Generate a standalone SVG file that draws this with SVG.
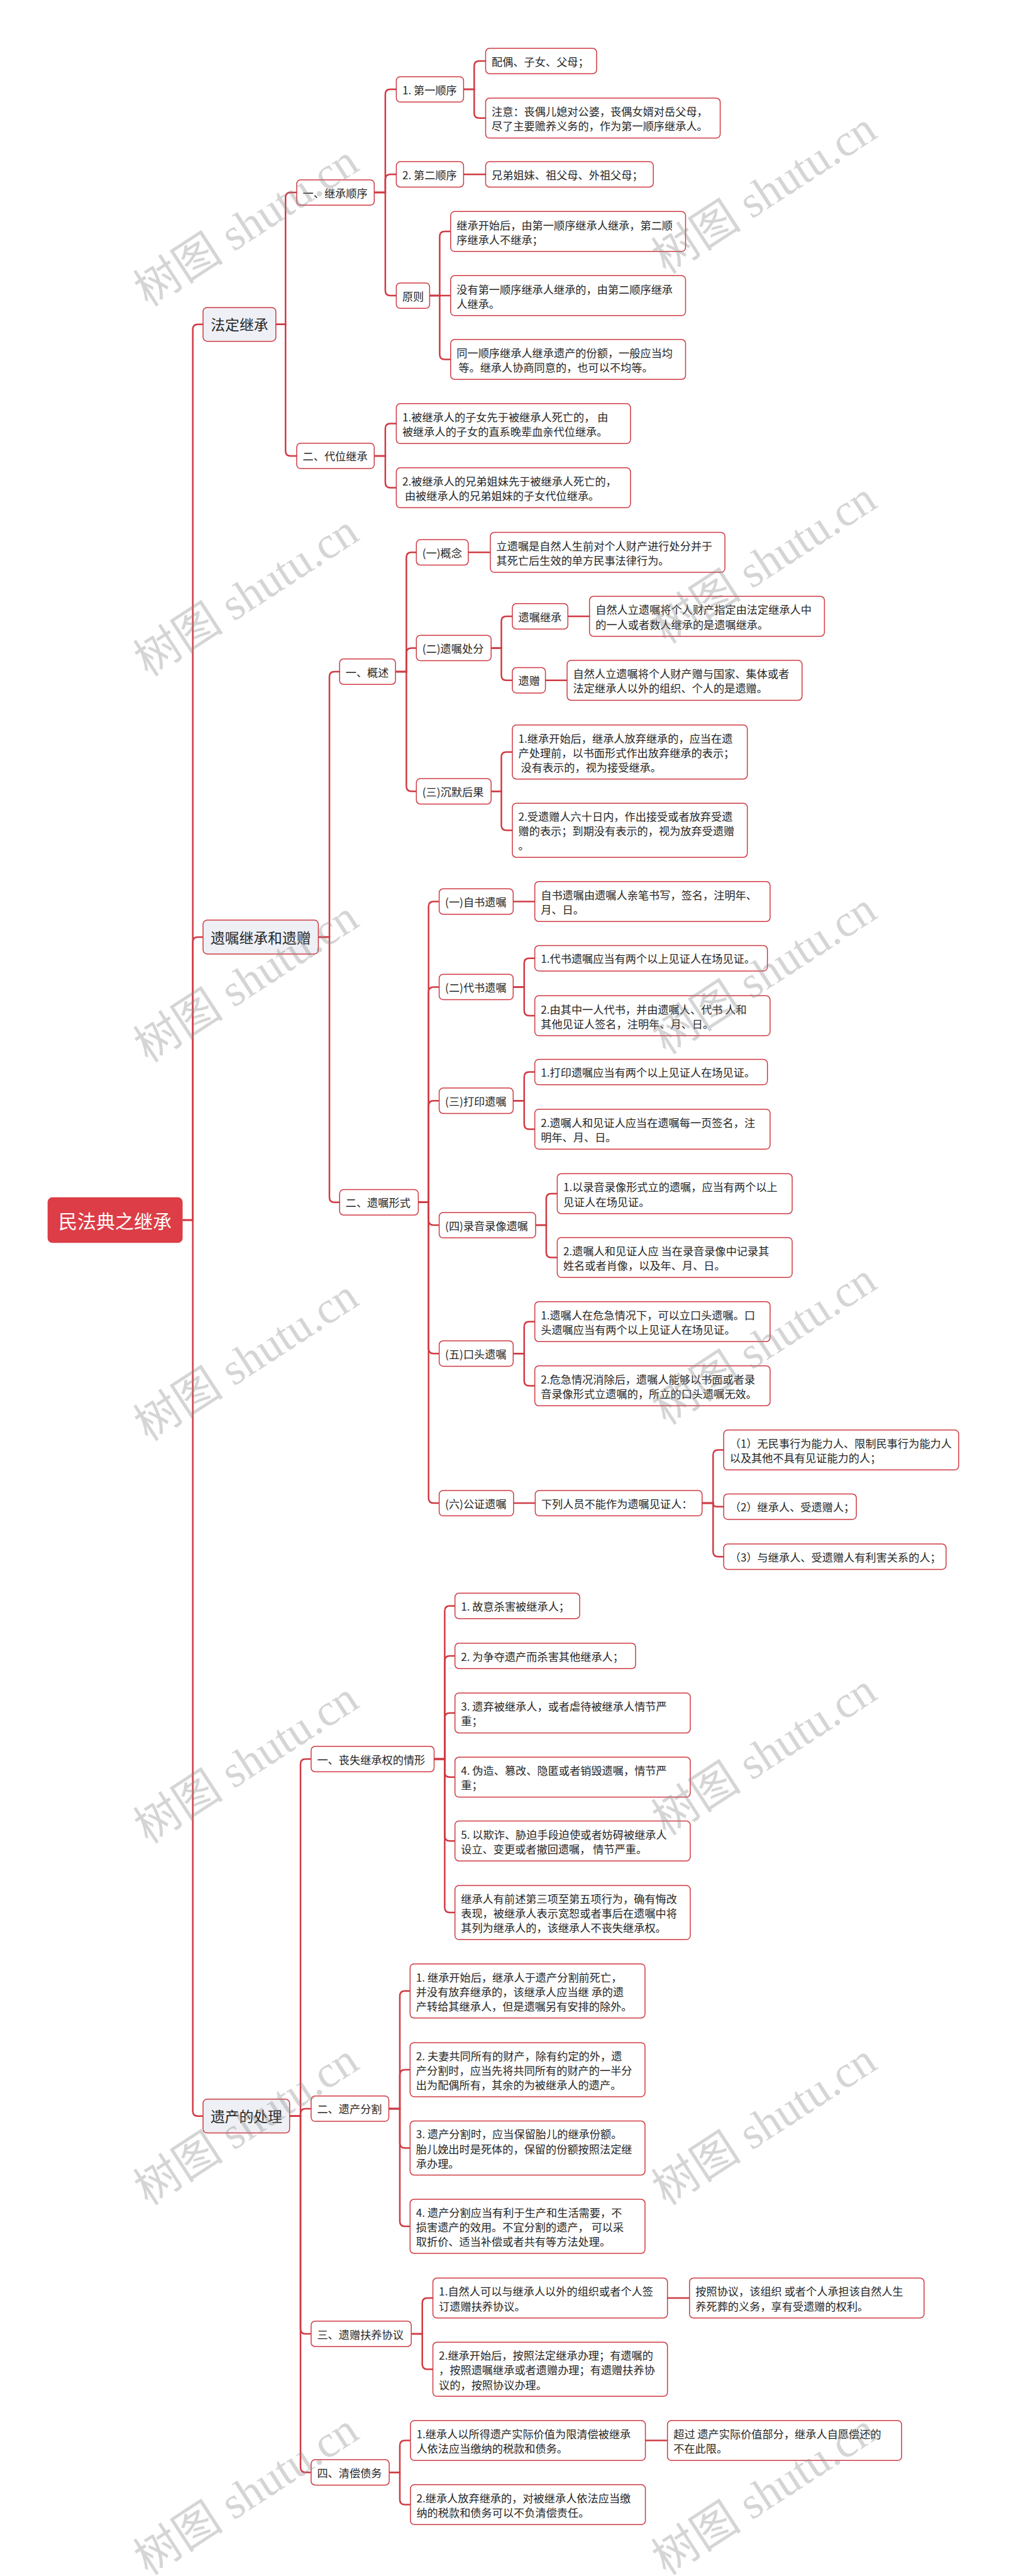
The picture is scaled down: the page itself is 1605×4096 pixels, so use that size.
<svg xmlns="http://www.w3.org/2000/svg" width="1605" height="4096" viewBox="0 0 1605 4096">
<style>
.c path{fill:none;stroke:#d03a43;stroke-width:2.5}
.n rect{fill:#fff;stroke:#cf3a43;stroke-width:1.5}
.l1 rect{fill:#eef0f5}
.root rect{fill:#dc3d46;stroke:none}
text{font-family:"Noto Sans CJK SC","Noto Sans",sans-serif;font-size:17.2px;fill:#262626;dominant-baseline:central}
.l1 text{font-size:22.8px;text-anchor:middle}
.root text{font-size:30px;fill:#fff;text-anchor:middle}
.wm text{font-family:"Liberation Serif","Noto Sans CJK SC",serif;font-size:72px;fill:#8a8a8a;opacity:0.35;text-anchor:middle;dominant-baseline:auto}
</style>
<rect width="1605" height="4096" fill="#fff"/>
<g class="c" id="connectors">
<path d="M290.5 1940 H306.7 V523.8 Q306.7 515.8 314.7 515.8 H323"/>
<path d="M290.5 1940 H306.7 V1498 Q306.7 1490 314.7 1490 H323"/>
<path d="M290.5 1940 H306.7 V3356.7 Q306.7 3364.7 314.7 3364.7 H323"/>
<path d="M438.8 515.8 H454.2 V314.1 Q454.2 306.1 462.2 306.1 H472"/>
<path d="M438.8 515.8 H454.2 V716.9 Q454.2 724.9 462.2 724.9 H472"/>
<path d="M595.3 306.1 H612.9 V150.1 Q612.9 142.1 620.9 142.1 H630.4"/>
<path d="M595.3 306.1 H612.9 V285.3 Q612.9 277.3 620.9 277.3 H630.4"/>
<path d="M595.3 306.1 H612.9 V462.1 Q612.9 470.1 620.9 470.1 H630.4"/>
<path d="M737.4 142.1 H754.3 V105 Q754.3 97 762.3 97 H772.5"/>
<path d="M737.4 142.1 H754.3 V179.8 Q754.3 187.8 762.3 187.8 H772.5"/>
<path d="M737.4 277.3 H772.5"/>
<path d="M683.4 470.1 H699.4 V376.1 Q699.4 368.1 707.4 368.1 H716.8"/>
<path d="M683.4 470.1 H716.8"/>
<path d="M683.4 470.1 H699.4 V563.5 Q699.4 571.5 707.4 571.5 H716.8"/>
<path d="M595.3 724.9 H612.9 V681.6 Q612.9 673.6 620.9 673.6 H630.4"/>
<path d="M595.3 724.9 H612.9 V767.6 Q612.9 775.6 620.9 775.6 H630.4"/>
<path d="M506.4 1490 H524 V1076 Q524 1068 532 1068 H540.2"/>
<path d="M506.4 1490 H524 V1903.8 Q524 1911.8 532 1911.8 H540.2"/>
<path d="M629.1 1068 H646.4 V886.3 Q646.4 878.3 654.4 878.3 H662.3"/>
<path d="M629.1 1068 H646.4 V1038.4 Q646.4 1030.4 654.4 1030.4 H662.3"/>
<path d="M629.1 1068 H646.4 V1250.3 Q646.4 1258.3 654.4 1258.3 H662.3"/>
<path d="M744.9 878.3 H780"/>
<path d="M781.2 1030.4 H797.5 V988 Q797.5 980 805.5 980 H815"/>
<path d="M781.2 1030.4 H797.5 V1073.7 Q797.5 1081.7 805.5 1081.7 H815"/>
<path d="M903.3 980 H937.7"/>
<path d="M867.6 1081.7 H902.1"/>
<path d="M781.2 1258.3 H797.5 V1203.7 Q797.5 1195.7 805.5 1195.7 H815"/>
<path d="M781.2 1258.3 H797.5 V1312.2 Q797.5 1320.2 805.5 1320.2 H815"/>
<path d="M665.4 1911.8 H681.7 V1441.5 Q681.7 1433.5 689.7 1433.5 H698.6"/>
<path d="M665.4 1911.8 H681.7 V1577.4 Q681.7 1569.4 689.7 1569.4 H698.6"/>
<path d="M665.4 1911.8 H681.7 V1758.3 Q681.7 1750.3 689.7 1750.3 H698.6"/>
<path d="M665.4 1911.8 H681.7 V1940.1 Q681.7 1948.1 689.7 1948.1 H698.6"/>
<path d="M665.4 1911.8 H681.7 V2144.2 Q681.7 2152.2 689.7 2152.2 H698.6"/>
<path d="M665.4 1911.8 H681.7 V2382.1 Q681.7 2390.1 689.7 2390.1 H698.6"/>
<path d="M816.3 1433.5 H850.7"/>
<path d="M816.3 1569.4 H833.8 V1531.7 Q833.8 1523.7 841.8 1523.7 H850.7"/>
<path d="M816.3 1569.4 H833.8 V1607.1 Q833.8 1615.1 841.8 1615.1 H850.7"/>
<path d="M816.3 1750.3 H833.8 V1712.6 Q833.8 1704.6 841.8 1704.6 H850.7"/>
<path d="M816.3 1750.3 H833.8 V1787.4 Q833.8 1795.4 841.8 1795.4 H850.7"/>
<path d="M852 1948.1 H868.9 V1906 Q868.9 1898 876.9 1898 H886.4"/>
<path d="M852 1948.1 H868.9 V1991.4 Q868.9 1999.4 876.9 1999.4 H886.4"/>
<path d="M816.3 2152.2 H833.8 V2109.5 Q833.8 2101.5 841.8 2101.5 H850.7"/>
<path d="M816.3 2152.2 H833.8 V2195.5 Q833.8 2203.5 841.8 2203.5 H850.7"/>
<path d="M816.9 2390.1 H851.4"/>
<path d="M1116.8 2390.1 H1134.3 V2313.6 Q1134.3 2305.6 1142.3 2305.6 H1151.2"/>
<path d="M1116.8 2390.1 H1134.3 Q1134.3 2395.7 1139.9 2395.7 H1151.2"/>
<path d="M1116.8 2390.1 H1134.3 V2467.2 Q1134.3 2475.2 1142.3 2475.2 H1151.2"/>
<path d="M460.7 3364.7 H478 V2805 Q478 2797 486 2797 H494.9"/>
<path d="M460.7 3364.7 H478 V3360.9 Q478 3352.9 486 3352.9 H494.9"/>
<path d="M460.7 3364.7 H478 V3703 Q478 3711 486 3711 H494.9"/>
<path d="M460.7 3364.7 H478 V3923.3 Q478 3931.3 486 3931.3 H494.9"/>
<path d="M690.5 2797 H707.4 V2561.5 Q707.4 2553.5 715.4 2553.5 H723.7"/>
<path d="M690.5 2797 H707.4 V2641 Q707.4 2633 715.4 2633 H723.7"/>
<path d="M690.5 2797 H707.4 V2731.7 Q707.4 2723.7 715.4 2723.7 H723.7"/>
<path d="M690.5 2797 H707.4 V2817.8 Q707.4 2825.8 715.4 2825.8 H723.7"/>
<path d="M690.5 2797 H707.4 V2919.2 Q707.4 2927.2 715.4 2927.2 H723.7"/>
<path d="M690.5 2797 H707.4 V3033.1 Q707.4 3041.1 715.4 3041.1 H723.7"/>
<path d="M618.5 3352.9 H636 V3173.7 Q636 3165.7 644 3165.7 H652.3"/>
<path d="M618.5 3352.9 H636 V3298.9 Q636 3290.9 644 3290.9 H652.3"/>
<path d="M618.5 3352.9 H636 V3407.5 Q636 3415.5 644 3415.5 H652.3"/>
<path d="M618.5 3352.9 H636 V3532 Q636 3540 644 3540 H652.3"/>
<path d="M654.2 3711 H671.7 V3662 Q671.7 3654 679.7 3654 H688.6"/>
<path d="M654.2 3711 H671.7 V3759.3 Q671.7 3767.3 679.7 3767.3 H688.6"/>
<path d="M1061.7 3654 H1096.8"/>
<path d="M619.1 3931.3 H636 V3888.6 Q636 3880.6 644 3880.6 H652.9"/>
<path d="M619.1 3931.3 H636 V3974.6 Q636 3982.6 644 3982.6 H652.9"/>
<path d="M1026.6 3880.6 H1061.7"/>
</g>
<g id="root" class="root"><rect x="75.7" y="1903.7" width="214.8" height="72.6" rx="7.5"/><text x="183.1" y="1940">民法典之继承</text></g>
<g id="l1-fading" class="n l1"><rect x="323" y="488.9" width="115.8" height="53.8" rx="6.5"/><text x="380.9" y="515.8">法定继承</text></g>
<g id="l1-will" class="n l1"><rect x="323" y="1463.1" width="183.4" height="53.8" rx="6.5"/><text x="414.7" y="1490">遗嘱继承和遗赠</text></g>
<g id="l1-estate" class="n l1"><rect x="323" y="3337.8" width="137.7" height="53.8" rx="6.5"/><text x="391.9" y="3364.7">遗产的处理</text></g>

<g id="n-order" class="n"><rect x="472" y="285.9" width="123.3" height="40.4" rx="6.3"/><text x="481.5" y="306.1">一、继承顺序</text></g>
<g id="n-first" class="n"><rect x="630.4" y="121.9" width="107" height="40.4" rx="6.3"/><text x="639.9" y="142.1">1. 第一顺序</text></g>
<g id="n-first-a" class="n"><rect x="772.5" y="76.8" width="176.5" height="40.4" rx="6.3"/><text x="782" y="97">配偶、子女、父母；</text></g>
<g id="n-first-b" class="n"><rect x="772.5" y="156.05" width="373.1" height="63.5" rx="6.3"/><text x="782"><tspan x="782" y="176.2">注意：丧偶儿媳对公婆，丧偶女婿对岳父母，</tspan><tspan x="782" y="199.4">尽了主要赡养义务的，作为第一顺序继承人。</tspan></text></g>
<g id="n-second" class="n"><rect x="630.4" y="257.1" width="107" height="40.4" rx="6.3"/><text x="639.9" y="277.3">2. 第二顺序</text></g>
<g id="n-second-a" class="n"><rect x="772.5" y="257.1" width="266.7" height="40.4" rx="6.3"/><text x="782" y="277.3">兄弟姐妹、祖父母、外祖父母；</text></g>
<g id="n-rule" class="n"><rect x="630.4" y="449.9" width="53" height="40.4" rx="6.3"/><text x="639.9" y="470.1">原则</text></g>
<g id="n-rule-a" class="n"><rect x="716.8" y="336.35" width="373.7" height="63.5" rx="6.3"/><text><tspan x="726.3" y="356.5">继承开始后，由第一顺序继承人继承，第二顺</tspan><tspan x="726.3" y="379.7">序继承人不继承；</tspan></text></g>
<g id="n-rule-b" class="n"><rect x="716.8" y="438.35" width="373.7" height="63.5" rx="6.3"/><text><tspan x="726.3" y="458.5">没有第一顺序继承人继承的，由第二顺序继承</tspan><tspan x="726.3" y="481.7">人继承。</tspan></text></g>
<g id="n-rule-c" class="n"><rect x="716.8" y="539.75" width="373.7" height="63.5" rx="6.3"/><text><tspan x="726.3" y="559.9">同一顺序继承人继承遗产的份额，一般应当均</tspan><tspan x="729.3" y="583.1">等。继承人协商同意的，也可以不均等。</tspan></text></g>
<g id="n-subst" class="n"><rect x="472" y="704.7" width="123.3" height="40.4" rx="6.3"/><text x="481.5" y="724.9">二、代位继承</text></g>
<g id="n-subst-a" class="n"><rect x="630.4" y="641.85" width="372.5" height="63.5" rx="6.3"/><text><tspan x="639.9" y="662">1.被继承人的子女先于被继承人死亡的， 由</tspan><tspan x="639.9" y="685.2">被继承人的子女的直系晚辈血亲代位继承。</tspan></text></g>
<g id="n-subst-b" class="n"><rect x="630.4" y="743.85" width="372.5" height="63.5" rx="6.3"/><text><tspan x="639.9" y="764">2.被继承人的兄弟姐妹先于被继承人死亡的，</tspan><tspan x="643.9" y="787.2">由被继承人的兄弟姐妹的子女代位继承。</tspan></text></g>

<g id="n-overview" class="n"><rect x="540.2" y="1047.8" width="88.9" height="40.4" rx="6.3"/><text x="549.7" y="1068">一、概述</text></g>
<g id="n-concept" class="n"><rect x="662.3" y="858.1" width="82.6" height="40.4" rx="6.3"/><text x="671.8" y="878.3">(一)概念</text></g>
<g id="n-concept-a" class="n"><rect x="780" y="846.55" width="373.1" height="63.5" rx="6.3"/><text><tspan x="789.5" y="866.7">立遗嘱是自然人生前对个人财产进行处分并于</tspan><tspan x="789.5" y="889.9">其死亡后生效的单方民事法律行为。</tspan></text></g>
<g id="n-dispose" class="n"><rect x="662.3" y="1010.2" width="118.9" height="40.4" rx="6.3"/><text x="671.8" y="1030.4">(二)遗嘱处分</text></g>
<g id="n-willinh" class="n"><rect x="815" y="959.8" width="88.3" height="40.4" rx="6.3"/><text x="824.5" y="980">遗嘱继承</text></g>
<g id="n-willinh-a" class="n"><rect x="937.7" y="948.25" width="373.7" height="63.5" rx="6.3"/><text><tspan x="947.2" y="968.4">自然人立遗嘱将个人财产指定由法定继承人中</tspan><tspan x="947.2" y="991.6">的一人或者数人继承的是遗嘱继承。</tspan></text></g>
<g id="n-bequest" class="n"><rect x="815" y="1061.5" width="52.6" height="40.4" rx="6.3"/><text x="824.5" y="1081.7">遗赠</text></g>
<g id="n-bequest-a" class="n"><rect x="902.1" y="1049.95" width="373.7" height="63.5" rx="6.3"/><text><tspan x="911.6" y="1070.1">自然人立遗嘱将个人财产赠与国家、集体或者</tspan><tspan x="911.6" y="1093.3">法定继承人以外的组织、个人的是遗赠。</tspan></text></g>
<g id="n-silence" class="n"><rect x="662.3" y="1238.1" width="118.9" height="40.4" rx="6.3"/><text x="671.8" y="1258.3">(三)沉默后果</text></g>
<g id="n-silence-a" class="n"><rect x="815" y="1152.7" width="373.7" height="86" rx="6.3"/><text><tspan x="824.5" y="1172.5">1.继承开始后，继承人放弃继承的，应当在遗</tspan><tspan x="824.5" y="1195.7">产处理前，以书面形式作出放弃继承的表示；</tspan><tspan x="828.5" y="1218.9">没有表示的，视为接受继承。</tspan></text></g>
<g id="n-silence-b" class="n"><rect x="815" y="1277.2" width="373.7" height="86" rx="6.3"/><text><tspan x="824.5" y="1297">2.受遗赠人六十日内，作出接受或者放弃受遗</tspan><tspan x="824.5" y="1320.2">赠的表示；到期没有表示的，视为放弃受遗赠</tspan><tspan x="824.5" y="1343.4">。</tspan></text></g>

<g id="n-forms" class="n"><rect x="540.2" y="1891.6" width="125.2" height="40.4" rx="6.3"/><text x="549.7" y="1911.8">二、遗嘱形式</text></g>
<g id="n-self" class="n"><rect x="698.6" y="1413.3" width="117.7" height="40.4" rx="6.3"/><text x="708.1" y="1433.5">(一)自书遗嘱</text></g>
<g id="n-self-a" class="n"><rect x="850.7" y="1401.75" width="374.3" height="63.5" rx="6.3"/><text><tspan x="860.2" y="1421.9">自书遗嘱由遗嘱人亲笔书写，签名，注明年、</tspan><tspan x="860.2" y="1445.1">月、日。</tspan></text></g>
<g id="n-proxy" class="n"><rect x="698.6" y="1549.2" width="117.7" height="40.4" rx="6.3"/><text x="708.1" y="1569.4">(二)代书遗嘱</text></g>
<g id="n-proxy-a" class="n"><rect x="850.7" y="1503.5" width="370" height="40.4" rx="6.3"/><text x="860.2" y="1523.7">1.代书遗嘱应当有两个以上见证人在场见证。</text></g>
<g id="n-proxy-b" class="n"><rect x="850.7" y="1583.35" width="374.3" height="63.5" rx="6.3"/><text><tspan x="860.2" y="1603.5">2.由其中一人代书，并由遗嘱人、代书 人和</tspan><tspan x="860.2" y="1626.7">其他见证人签名，注明年、月、日。</tspan></text></g>
<g id="n-print" class="n"><rect x="698.6" y="1730.1" width="117.7" height="40.4" rx="6.3"/><text x="708.1" y="1750.3">(三)打印遗嘱</text></g>
<g id="n-print-a" class="n"><rect x="850.7" y="1684.4" width="370" height="40.4" rx="6.3"/><text x="860.2" y="1704.6">1.打印遗嘱应当有两个以上见证人在场见证。</text></g>
<g id="n-print-b" class="n"><rect x="850.7" y="1763.65" width="374.3" height="63.5" rx="6.3"/><text><tspan x="860.2" y="1783.8">2.遗嘱人和见证人应当在遗嘱每一页签名，注</tspan><tspan x="860.2" y="1807">明年、月、日。</tspan></text></g>
<g id="n-av" class="n"><rect x="698.6" y="1927.9" width="153.4" height="40.4" rx="6.3"/><text x="708.1" y="1948.1">(四)录音录像遗嘱</text></g>
<g id="n-av-a" class="n"><rect x="886.4" y="1866.25" width="373.7" height="63.5" rx="6.3"/><text><tspan x="895.9" y="1886.4">1.以录音录像形式立的遗嘱，应当有两个以上</tspan><tspan x="895.9" y="1909.6">见证人在场见证。</tspan></text></g>
<g id="n-av-b" class="n"><rect x="886.4" y="1967.65" width="373.7" height="63.5" rx="6.3"/><text><tspan x="895.9" y="1987.8">2.遗嘱人和见证人应 当在录音录像中记录其</tspan><tspan x="895.9" y="2011">姓名或者肖像，以及年、月、日。</tspan></text></g>
<g id="n-oral" class="n"><rect x="698.6" y="2132" width="117.7" height="40.4" rx="6.3"/><text x="708.1" y="2152.2">(五)口头遗嘱</text></g>
<g id="n-oral-a" class="n"><rect x="850.7" y="2069.75" width="374.3" height="63.5" rx="6.3"/><text><tspan x="860.2" y="2089.9">1.遗嘱人在危急情况下，可以立口头遗嘱。口</tspan><tspan x="860.2" y="2113.1">头遗嘱应当有两个以上见证人在场见证。</tspan></text></g>
<g id="n-oral-b" class="n"><rect x="850.7" y="2171.75" width="374.3" height="63.5" rx="6.3"/><text><tspan x="860.2" y="2191.9">2.危急情况消除后，遗嘱人能够以书面或者录</tspan><tspan x="860.2" y="2215.1">音录像形式立遗嘱的，所立的口头遗嘱无效。</tspan></text></g>
<g id="n-notary" class="n"><rect x="698.6" y="2369.9" width="118.3" height="40.4" rx="6.3"/><text x="708.1" y="2390.1">(六)公证遗嘱</text></g>
<g id="n-notary-a" class="n"><rect x="851.4" y="2369.9" width="265.4" height="40.4" rx="6.3"/><text x="860.9" y="2390.1">下列人员不能作为遗嘱见证人：</text></g>
<g id="n-notary-1" class="n"><rect x="1151.2" y="2273.85" width="373.7" height="63.5" rx="6.3"/><text><tspan x="1160.7" y="2294">（1）无民事行为能力人、限制民事行为能力人</tspan><tspan x="1160.7" y="2317.2">以及其他不具有见证能力的人；</tspan></text></g>
<g id="n-notary-2" class="n"><rect x="1151.2" y="2375.5" width="211" height="40.4" rx="6.3"/><text x="1160.7" y="2395.7">（2）继承人、受遗赠人；</text></g>
<g id="n-notary-3" class="n"><rect x="1151.2" y="2455" width="353.7" height="40.4" rx="6.3"/><text x="1160.7" y="2475.2">（3）与继承人、受遗赠人有利害关系的人；</text></g>

<g id="n-loss" class="n"><rect x="494.9" y="2776.8" width="195.6" height="40.4" rx="6.3"/><text x="504.4" y="2797">一、丧失继承权的情形</text></g>
<g id="n-loss-1" class="n"><rect x="723.7" y="2533.3" width="198.4" height="40.4" rx="6.3"/><text x="733.2" y="2553.5">1. 故意杀害被继承人；</text></g>
<g id="n-loss-2" class="n"><rect x="723.7" y="2612.8" width="287.3" height="40.4" rx="6.3"/><text x="733.2" y="2633">2. 为争夺遗产而杀害其他继承人；</text></g>
<g id="n-loss-3" class="n"><rect x="723.7" y="2691.95" width="374.3" height="63.5" rx="6.3"/><text><tspan x="733.2" y="2712.1">3. 遗弃被继承人，或者虐待被继承人情节严</tspan><tspan x="733.2" y="2735.3">重；</tspan></text></g>
<g id="n-loss-4" class="n"><rect x="723.7" y="2794.05" width="374.3" height="63.5" rx="6.3"/><text><tspan x="733.2" y="2814.2">4. 伪造、篡改、隐匿或者销毁遗嘱，情节严</tspan><tspan x="733.2" y="2837.4">重；</tspan></text></g>
<g id="n-loss-5" class="n"><rect x="723.7" y="2895.45" width="374.3" height="63.5" rx="6.3"/><text><tspan x="733.2" y="2915.6">5. 以欺诈、胁迫手段迫使或者妨碍被继承人</tspan><tspan x="733.2" y="2938.8">设立、变更或者撤回遗嘱， 情节严重。</tspan></text></g>
<g id="n-loss-6" class="n"><rect x="723.7" y="2998.1" width="374.3" height="86" rx="6.3"/><text><tspan x="733.2" y="3017.9">继承人有前述第三项至第五项行为，确有悔改</tspan><tspan x="733.2" y="3041.1">表现，被继承人表示宽恕或者事后在遗嘱中将</tspan><tspan x="733.2" y="3064.3">其列为继承人的，该继承人不丧失继承权。</tspan></text></g>

<g id="n-split" class="n"><rect x="494.9" y="3332.7" width="123.6" height="40.4" rx="6.3"/><text x="504.4" y="3352.9">二、遗产分割</text></g>
<g id="n-split-1" class="n"><rect x="652.3" y="3122.7" width="373.7" height="86" rx="6.3"/><text><tspan x="661.8" y="3142.5">1. 继承开始后，继承人于遗产分割前死亡，</tspan><tspan x="661.8" y="3165.7">并没有放弃继承的，该继承人应当继 承的遗</tspan><tspan x="661.8" y="3188.9">产转给其继承人，但是遗嘱另有安排的除外。</tspan></text></g>
<g id="n-split-2" class="n"><rect x="652.3" y="3247.9" width="373.7" height="86" rx="6.3"/><text><tspan x="661.8" y="3267.7">2. 夫妻共同所有的财产，除有约定的外，遗</tspan><tspan x="661.8" y="3290.9">产分割时，应当先将共同所有的财产的一半分</tspan><tspan x="661.8" y="3314.1">出为配偶所有，其余的为被继承人的遗产。</tspan></text></g>
<g id="n-split-3" class="n"><rect x="652.3" y="3372.5" width="373.7" height="86" rx="6.3"/><text><tspan x="661.8" y="3392.3">3. 遗产分割时，应当保留胎儿的继承份额。</tspan><tspan x="661.8" y="3415.5">胎儿娩出时是死体的，保留的份额按照法定继</tspan><tspan x="661.8" y="3438.7">承办理。</tspan></text></g>
<g id="n-split-4" class="n"><rect x="652.3" y="3497" width="373.7" height="86" rx="6.3"/><text><tspan x="661.8" y="3516.8">4. 遗产分割应当有利于生产和生活需要，不</tspan><tspan x="661.8" y="3540">损害遗产的效用。不宜分割的遗产， 可以采</tspan><tspan x="661.8" y="3563.2">取折价、适当补偿或者共有等方法处理。</tspan></text></g>

<g id="n-support" class="n"><rect x="494.9" y="3690.8" width="159.3" height="40.4" rx="6.3"/><text x="504.4" y="3711">三、遗赠扶养协议</text></g>
<g id="n-support-1" class="n"><rect x="688.6" y="3622.25" width="373.1" height="63.5" rx="6.3"/><text><tspan x="698.1" y="3642.4">1.自然人可以与继承人以外的组织或者个人签</tspan><tspan x="698.1" y="3665.6">订遗赠扶养协议。</tspan></text></g>
<g id="n-support-1a" class="n"><rect x="1096.8" y="3622.25" width="373.1" height="63.5" rx="6.3"/><text><tspan x="1106.3" y="3642.4">按照协议，该组织 或者个人承担该自然人生</tspan><tspan x="1106.3" y="3665.6">养死葬的义务，享有受遗赠的权利。</tspan></text></g>
<g id="n-support-2" class="n"><rect x="688.6" y="3724.3" width="373.1" height="86" rx="6.3"/><text><tspan x="698.1" y="3744.1">2.继承开始后，按照法定继承办理；有遗嘱的</tspan><tspan x="698.1" y="3767.3">，按照遗嘱继承或者遗赠办理；有遗赠扶养协</tspan><tspan x="698.1" y="3790.5">议的，按照协议办理。</tspan></text></g>

<g id="n-debt" class="n"><rect x="494.9" y="3911.1" width="124.2" height="40.4" rx="6.3"/><text x="504.4" y="3931.3">四、清偿债务</text></g>
<g id="n-debt-1" class="n"><rect x="652.9" y="3848.85" width="373.7" height="63.5" rx="6.3"/><text><tspan x="662.4" y="3869">1.继承人以所得遗产实际价值为限清偿被继承</tspan><tspan x="662.4" y="3892.2">人依法应当缴纳的税款和债务。</tspan></text></g>
<g id="n-debt-1a" class="n"><rect x="1061.7" y="3848.85" width="372.5" height="63.5" rx="6.3"/><text><tspan x="1071.2" y="3869">超过 遗产实际价值部分，继承人自愿偿还的</tspan><tspan x="1071.2" y="3892.2">不在此限。</tspan></text></g>
<g id="n-debt-2" class="n"><rect x="652.9" y="3950.85" width="373.7" height="63.5" rx="6.3"/><text><tspan x="662.4" y="3971">2.继承人放弃继承的，对被继承人依法应当缴</tspan><tspan x="662.4" y="3994.2">纳的税款和债务可以不负清偿责任。</tspan></text></g>

<g class="wm" id="watermarks">
<text transform="translate(405 379) rotate(-33)">树图 shutu.cn</text>
<text transform="translate(1229 327) rotate(-33)">树图 shutu.cn</text>
<text transform="translate(405 967) rotate(-33)">树图 shutu.cn</text>
<text transform="translate(1229 915) rotate(-33)">树图 shutu.cn</text>
<text transform="translate(405 1581) rotate(-33)">树图 shutu.cn</text>
<text transform="translate(1229 1568) rotate(-33)">树图 shutu.cn</text>
<text transform="translate(405 2183) rotate(-33)">树图 shutu.cn</text>
<text transform="translate(1229 2157) rotate(-33)">树图 shutu.cn</text>
<text transform="translate(405 2823) rotate(-33)">树图 shutu.cn</text>
<text transform="translate(1229 2810) rotate(-33)">树图 shutu.cn</text>
<text transform="translate(405 3398) rotate(-33)">树图 shutu.cn</text>
<text transform="translate(1229 3398) rotate(-33)">树图 shutu.cn</text>
<text transform="translate(405 3986) rotate(-33)">树图 shutu.cn</text>
<text transform="translate(1229 3986) rotate(-33)">树图 shutu.cn</text>
</g>
</svg>
